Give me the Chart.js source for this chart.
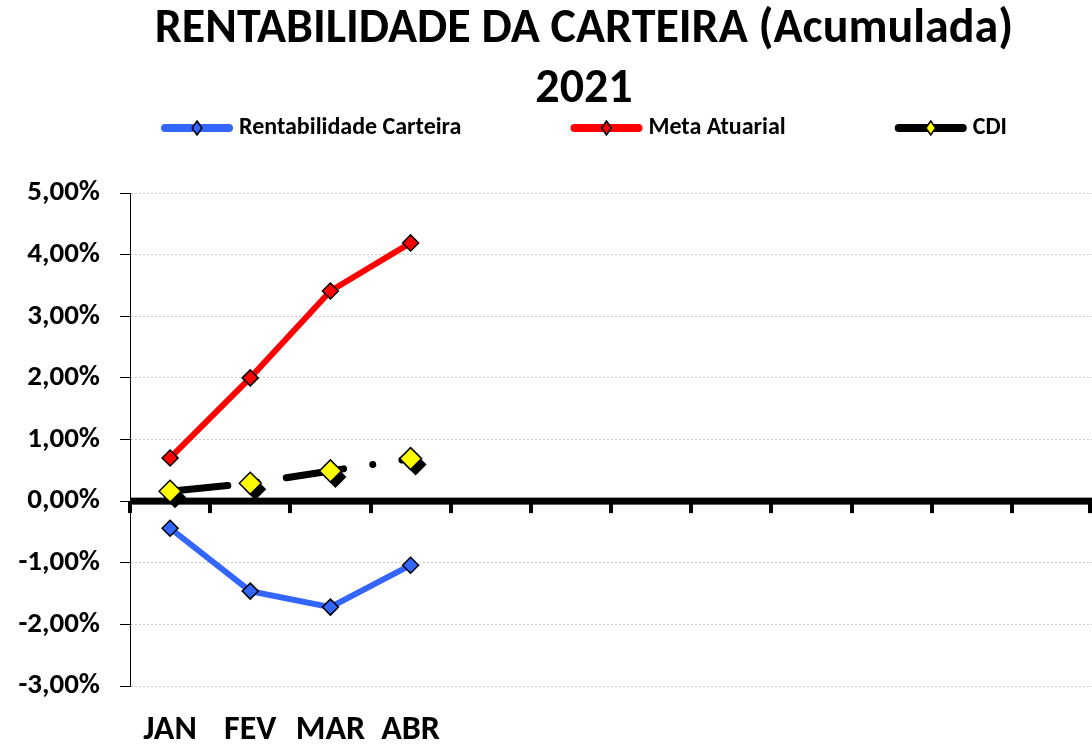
<!DOCTYPE html>
<html>
<head>
<meta charset="utf-8">
<script src="https://cdn.jsdelivr.net/npm/chart.js@4.4.1/dist/chart.umd.min.js"></script>
<style>
  html, body { margin: 0; padding: 0; background: #fff; overflow: hidden; }
  #wrap { width: 1092px; height: 744px; }
</style>
</head>
<body>
<div id="wrap"><canvas id="chart"></canvas></div>
<script>
const FONT = 'Carlito, "Liberation Sans Narrow", Lato, sans-serif';

// categories and data (accumulated %, 2021)
const months = ['JAN', 'FEV', 'MAR', 'ABR', 'MAI', 'JUN', 'JUL', 'AGO', 'SET', 'OUT', 'NOV', 'DEZ'];
const monthLabels = ['JAN', 'FEV', 'MAR', 'ABR', '', '', '', '', '', '', '', ''];
const carteira = [-0.44, -1.46, -1.72, -1.04, null, null, null, null, null, null, null, null];
const metaAtuarial = [0.70, 2.00, 3.41, 4.19, null, null, null, null, null, null, null, null];
const cdi = [0.16, 0.29, 0.49, 0.69, null, null, null, null, null, null, null, null];
const yTicks = [5, 4, 3, 2, 1, 0, -1, -2, -3];

const fmt = v => v.toFixed(2).replace('.', ',') + '%';

// title is centred a bit right of the canvas centre, like the original sheet
const shiftTitle = {
    id: 'shiftTitle',
    afterLayout(chart) {
        chart.titleBlock.left = 76;
    }
};

// custom legend: line sample with diamond, like the spreadsheet legend
const lineLegend = {
    id: 'lineLegend',
    afterDraw(chart) {
        const ctx = chart.ctx;
        const items = chart.data.datasets.filter(d => !d.noLegend);
        const sampleW = 72, gap = 6, spacing = 109;
        ctx.save();
        ctx.font = 'bold 24px ' + FONT;
        let total = 0;
        items.forEach((d, i) => {
            total += sampleW + gap + ctx.measureText(d.label).width;
            if (i > 0) total += spacing;
        });
        const tb = chart.titleBlock;
        let x = (tb.left + tb.right) / 2 - total / 2;
        const y = 128;
        items.forEach(d => {
            ctx.strokeStyle = d.borderColor;
            ctx.lineWidth = 8;
            ctx.lineCap = 'round';
            ctx.beginPath();
            ctx.moveTo(x + 4, y);
            ctx.lineTo(x + sampleW - 4, y);
            ctx.stroke();
            // diamond
            const cx = x + sampleW / 2, r = 7;
            ctx.beginPath();
            ctx.moveTo(cx, y - r);
            ctx.lineTo(cx + r * 0.7, y);
            ctx.lineTo(cx, y + r);
            ctx.lineTo(cx - r * 0.7, y);
            ctx.closePath();
            ctx.fillStyle = d.pointBackgroundColor;
            ctx.fill();
            ctx.lineWidth = 1.5;
            ctx.strokeStyle = '#000';
            ctx.stroke();
            ctx.fillStyle = '#000';
            ctx.textBaseline = 'middle';
            ctx.textAlign = 'left';
            ctx.fillText(d.label, x + sampleW + gap, y);
            x += sampleW + gap + ctx.measureText(d.label).width + spacing;
        });
        ctx.restore();
    }
};

// thick zero line with tick marks at the category boundaries
const zeroAxis = {
    id: 'zeroAxis',
    beforeDatasetsDraw(chart) {
        const ctx = chart.ctx;
        const xs = chart.scales.x, ys = chart.scales.y;
        const y0 = ys.getPixelForValue(0);
        const step = (xs.right - xs.left) / months.length;
        ctx.save();
        ctx.fillStyle = '#000';
        ctx.fillRect(xs.left, y0 - 3.5, xs.right - xs.left, 7);
        for (let i = 0; i <= months.length; i++) {
            const tx = Math.round(xs.left + i * step);
            ctx.fillRect(Math.min(tx - 2, xs.right - 4), y0, 4, 12);
        }
        ctx.restore();
    }
};

// offset the black "shadow" markers of the CDI series
const shadowShift = {
    id: 'shadowShift',
    beforeDatasetDraw(chart, args) {
        if (chart.data.datasets[args.index].isShadow) {
            chart.ctx.save();
            chart.ctx.translate(5, 6);
        }
    },
    afterDatasetDraw(chart, args) {
        if (chart.data.datasets[args.index].isShadow) {
            chart.ctx.restore();
        }
    }
};

const ctx = document.getElementById('chart').getContext('2d');
new Chart(ctx, {
    type: 'line',
    data: {
        labels: months,
        datasets: [
            {
                label: 'Rentabilidade Carteira',
                data: carteira,
                borderColor: '#3366FF',
                backgroundColor: '#3366FF',
                borderWidth: 6,
                pointStyle: 'rectRot',
                pointRadius: 8,
                pointBackgroundColor: '#3366FF',
                pointBorderColor: '#000',
                pointBorderWidth: 1.5,
                tension: 0
            },
            {
                label: 'Meta Atuarial',
                data: metaAtuarial,
                borderColor: '#FF0000',
                backgroundColor: '#FF0000',
                borderWidth: 6,
                pointStyle: 'rectRot',
                pointRadius: 8,
                pointBackgroundColor: '#FF0000',
                pointBorderColor: '#000',
                pointBorderWidth: 1.5,
                tension: 0
            },
            {
                label: 'CDI',
                data: cdi,
                borderColor: '#000',
                backgroundColor: '#000',
                borderWidth: 7,
                borderCapStyle: 'round',
                borderDash: [58, 29.5, 0.01, 29.5],
                pointStyle: 'rectRot',
                pointRadius: 11,
                pointBackgroundColor: '#FFFF00',
                pointBorderColor: '#000',
                pointBorderWidth: 1.5,
                tension: 0
            },
            {
                label: 'CDI sombra',
                data: cdi,
                noLegend: true,
                isShadow: true,
                showLine: false,
                pointStyle: 'rectRot',
                pointRadius: 11,
                pointBackgroundColor: '#000',
                pointBorderColor: '#000',
                pointBorderWidth: 0
            }
        ]
    },
    options: {
        responsive: true,
        maintainAspectRatio: false,
        animation: false,
        layout: { padding: 0, autoPadding: false },
        scales: {
            x: {
                offset: true,
                grid: { display: false, drawTicks: false },
                border: { display: false },
                ticks: {
                    color: '#000',
                    font: { family: FONT, size: 34, weight: 'bold' },
                    padding: 24,
                    maxRotation: 0,
                    autoSkip: false,
                    callback: (v, i) => monthLabels[i]
                },
                afterFit: s => { s.height = 58; s.paddingLeft = 0; s.paddingRight = 0; }
            },
            y: {
                min: -3,
                max: 5,
                afterBuildTicks: s => { s.ticks = yTicks.map(v => ({ value: v })); },
                grid: { color: '#c8c8c8', lineWidth: 1, tickColor: '#000', tickLength: 10 },
                border: { display: true, color: '#000', width: 1, dash: [2, 2] },
                ticks: {
                    color: '#000',
                    font: { family: FONT, size: 29, weight: 'bold' },
                    padding: 20,
                    callback: v => fmt(v)
                },
                afterFit: s => { s.width = 130; }
            }
        },
        plugins: {
            legend: { display: false },
            tooltip: { enabled: false },
            title: {
                display: true,
                text: ['RENTABILIDADE DA CARTEIRA (Acumulada)', '2021'],
                color: '#000',
                font: { family: FONT, size: 48, weight: 'bold', lineHeight: 1.25 },
                padding: { top: 0, bottom: 73 }
            }
        }
    },
    plugins: [shiftTitle, lineLegend, zeroAxis, shadowShift]
});
</script>
</body>
</html>
